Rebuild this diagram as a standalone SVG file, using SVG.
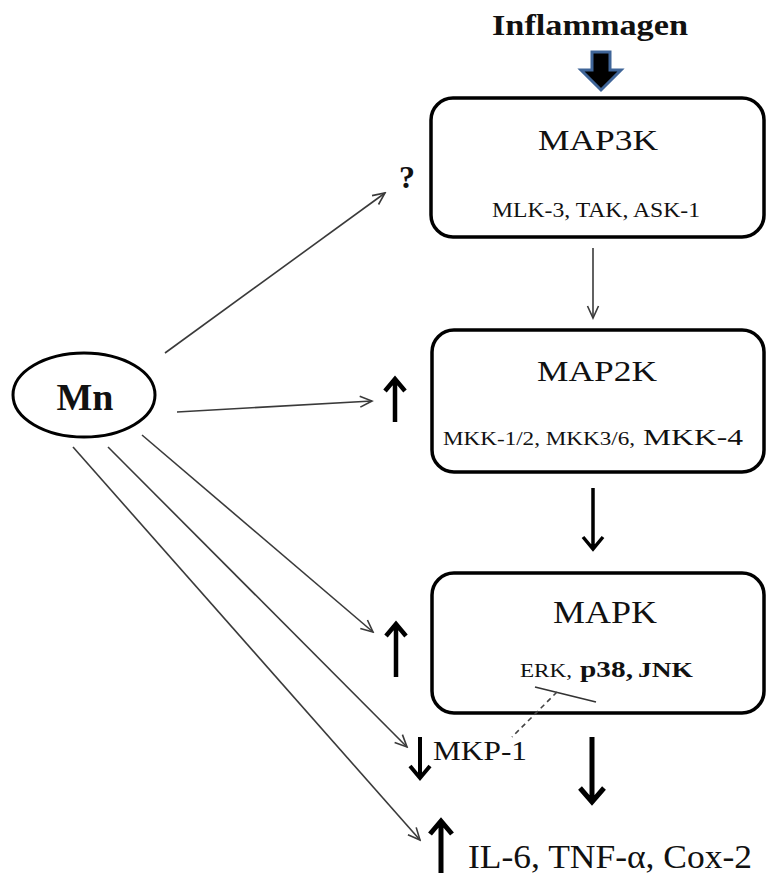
<svg xmlns="http://www.w3.org/2000/svg" width="767" height="878" viewBox="0 0 767 878">
<style>
  .box { fill: #fff; stroke: #000; stroke-width: 3.5; }
  .t { font-family: "Liberation Serif", "Times New Roman", serif; fill: #111; }
  .thin { stroke: #3a3a3a; stroke-width: 1.6; fill: none; }
  .thick { stroke: #000; fill: none; stroke-linecap: butt; stroke-linejoin: miter; }
</style>
<defs>
  <marker id="open" markerUnits="userSpaceOnUse" markerWidth="16" markerHeight="16" viewBox="-14 -7 16 14" refX="0" refY="0" orient="auto">
    <path d="M-12,-5.5 L0,0 L-12,5.5" fill="none" stroke="#3a3a3a" stroke-width="1.6"/>
  </marker>
</defs>
<rect width="767" height="878" fill="#fff"/>

<g id="inflammagen">
  <text class="t" x="590" y="35" font-size="30" font-weight="bold" text-anchor="middle" textLength="196" lengthAdjust="spacingAndGlyphs">Inflammagen</text>
  <path d="M592,52 L610,52 L610,70 L621,70 L601,90 L581,70 L592,70 Z" fill="#000" stroke="#3f6598" stroke-width="3" stroke-linejoin="miter"/>
</g>

<g id="map3k">
  <rect class="box" x="431" y="98" width="333" height="139" rx="22"/>
  <text class="t" x="598" y="150" font-size="29" text-anchor="middle" textLength="120" lengthAdjust="spacingAndGlyphs">MAP3K</text>
  <text class="t" x="596" y="217" font-size="20" text-anchor="middle" textLength="208" lengthAdjust="spacingAndGlyphs">MLK-3, TAK, ASK-1</text>
</g>

<g id="map2k">
  <rect class="box" x="432" y="330" width="332" height="142" rx="22"/>
  <text class="t" x="597" y="381" font-size="30" text-anchor="middle" textLength="120" lengthAdjust="spacingAndGlyphs">MAP2K</text>
  <text class="t" x="443" y="445" font-size="19" textLength="192" lengthAdjust="spacingAndGlyphs">MKK-1/2, MKK3/6,</text>
  <text class="t" x="643" y="445" font-size="24" textLength="100" lengthAdjust="spacingAndGlyphs">MKK-4</text>
</g>

<g id="mapk">
  <rect class="box" x="432" y="573" width="332" height="140" rx="22"/>
  <text class="t" x="605" y="623" font-size="32" text-anchor="middle" textLength="104" lengthAdjust="spacingAndGlyphs">MAPK</text>
  <text class="t" x="520" y="677" font-size="19" textLength="52" lengthAdjust="spacingAndGlyphs">ERK,</text>
  <text class="t" x="580" y="677" font-size="23" font-weight="bold" textLength="53" lengthAdjust="spacingAndGlyphs">p38,</text>
  <text class="t" x="638" y="677" font-size="21" font-weight="bold" textLength="55" lengthAdjust="spacingAndGlyphs">JNK</text>
</g>

<g id="mn">
  <ellipse cx="84" cy="395" rx="71" ry="42" fill="#fff" stroke="#000" stroke-width="3"/>
  <text class="t" x="85" y="410" font-size="38" font-weight="bold" text-anchor="middle">Mn</text>
</g>

<g id="question">
  <text class="t" x="407" y="188" font-size="32" font-weight="bold" text-anchor="middle">?</text>
</g>

<g id="mkp1">
  <text class="t" x="433" y="760" font-size="27" textLength="94" lengthAdjust="spacingAndGlyphs">MKP-1</text>
  <path class="thick" stroke-width="4" d="M420,737 L420,778 M410,766 L420,778 L430,766"/>
</g>

<g id="cytokines">
  <text class="t" x="468" y="868" font-size="33" textLength="284" lengthAdjust="spacingAndGlyphs">IL-6, TNF-α, Cox-2</text>
  <path class="thick" stroke-width="5" d="M441,873 L441,821 M430,834 L441,821 L452,834"/>
</g>

<g id="up-map2k">
  <path class="thick" stroke-width="4.5" d="M395,422 L395,380 M385,391 L395,379 L405,391"/>
</g>
<g id="up-mapk">
  <path class="thick" stroke-width="4.5" d="M396,677 L396,625 M386,636 L396,624 L406,636"/>
</g>

<g id="connectors">
  <line class="thin" x1="593" y1="248" x2="593" y2="318" marker-end="url(#open)"/>
  <path class="thick" stroke-width="3.5" d="M593,488 L593,548 M583,537 L593,549 L603,537"/>
  <path class="thick" stroke-width="5" d="M592,737 L592,801 M580,788 L592,802 L604,788"/>
  <line class="thin" x1="165" y1="353" x2="385" y2="193" marker-end="url(#open)"/>
  <line class="thin" x1="177" y1="412" x2="372" y2="401" marker-end="url(#open)"/>
  <line class="thin" x1="142" y1="435" x2="373" y2="632" marker-end="url(#open)"/>
  <line class="thin" x1="108" y1="447" x2="407" y2="747" marker-end="url(#open)"/>
  <line class="thin" x1="73" y1="447" x2="420" y2="840" marker-end="url(#open)"/>
  <line x1="535" y1="687" x2="596" y2="702" stroke="#333" stroke-width="1.8"/>
  <line x1="557" y1="692" x2="512" y2="737" stroke="#444" stroke-width="1.6" stroke-dasharray="5,4"/>
</g>
</svg>
